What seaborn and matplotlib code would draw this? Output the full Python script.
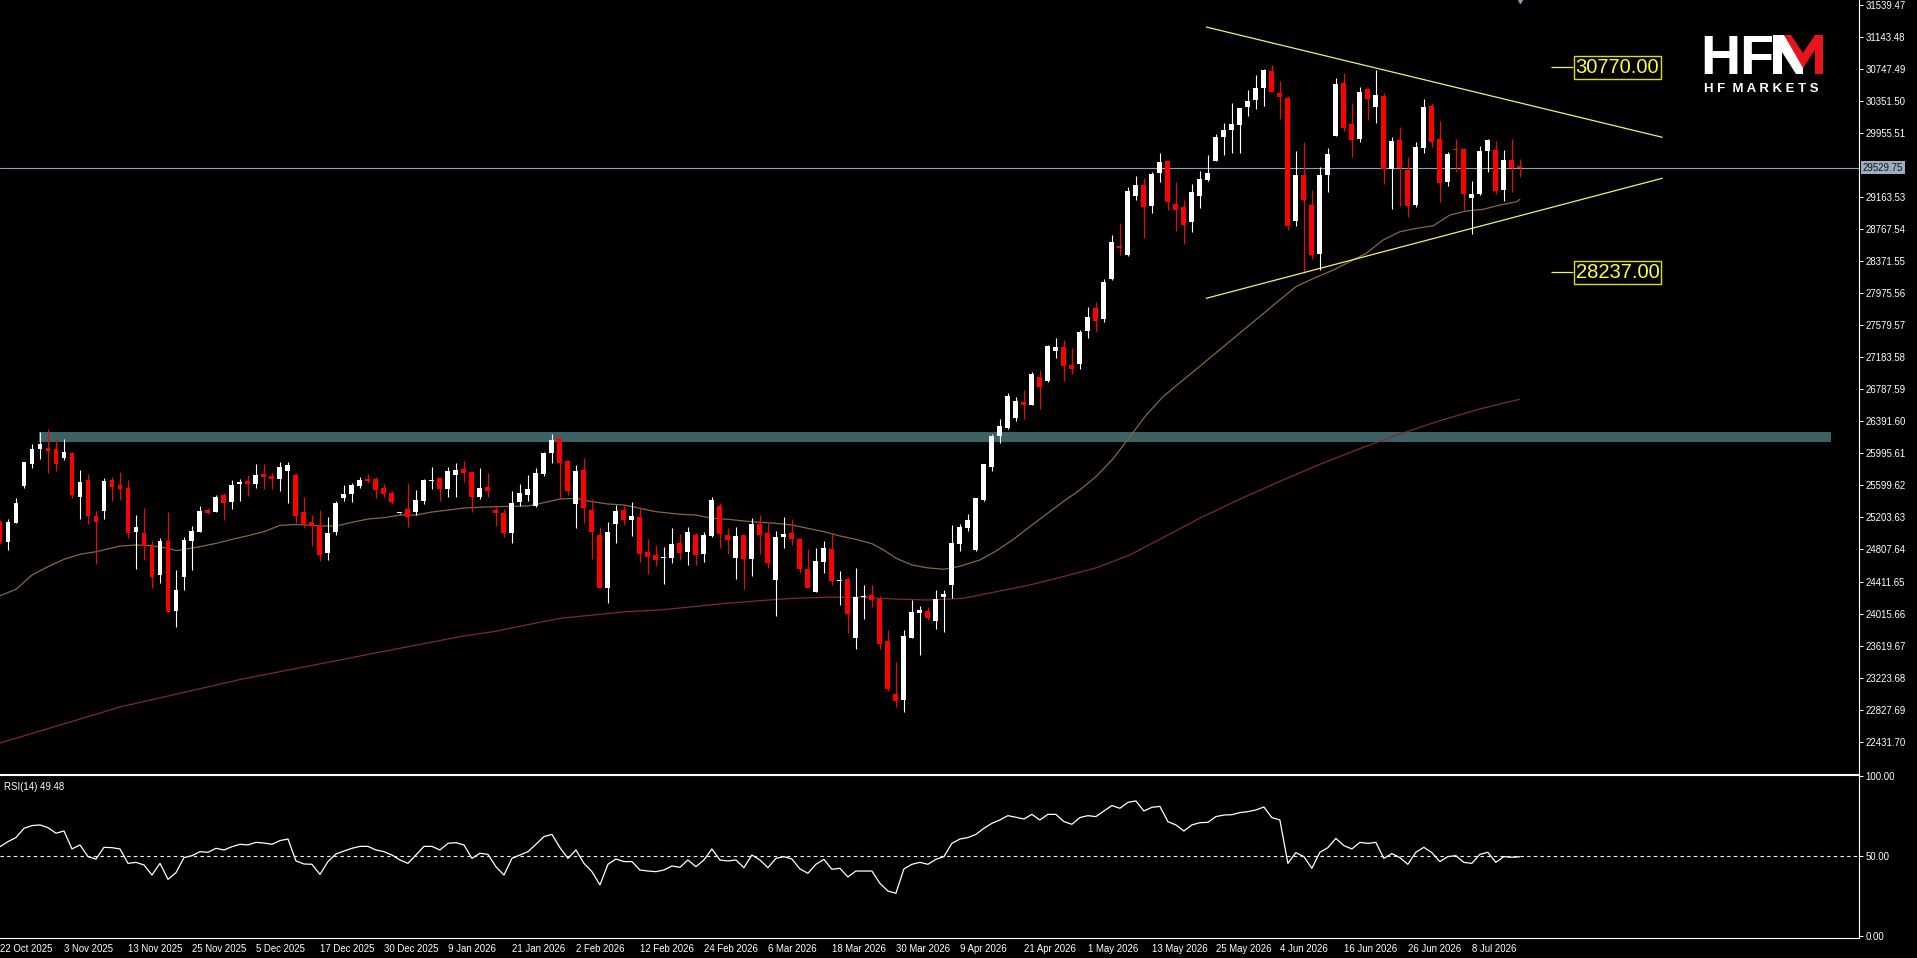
import numpy as np
import pandas as pd
import matplotlib
matplotlib.use("Agg")
import matplotlib.pyplot as plt
import matplotlib.transforms as mtransforms
from matplotlib.patches import Polygon
import seaborn as sns


### daily candles, 22 Oct 2025 .. mid Jul 2026
opens = [25151, 24904, 25139, 25592, 25864, 26049, 26062, 26049, 25942, 26000,
         25460, 25666, 25221, 25287, 25666, 25604, 25567, 25027, 25007, 24850,
         24492, 24912, 24047, 24471, 24916, 25023, 25295, 25275, 25481, 25398,
         25613, 25654, 25617, 25740, 25720, 25683, 25782, 25728, 25271, 25143,
         25106, 24768, 25027, 25444, 25493, 25596, 25674, 25683, 25563, 25501,
         25254, 25304, 25266, 25407, 25655, 25687, 25555, 25728, 25798, 25769,
         25461, 25576, 25296, 25263, 25016, 25399, 25482, 25346, 25741, 26005,
         26182, 25902, 25370, 25791, 25296, 24987, 24336, 25123, 25296, 25172,
         25214, 24781, 24740, 24705, 24707, 24892, 24781, 24987, 24752, 24979,
         25350, 24987, 24707, 24987, 24690, 25123, 25016, 24431, 24958, 25016,
         24938, 24567, 24286, 24657, 24814, 24420, 24443, 23718, 24223, 24245,
         24196, 23677, 23021, 22947, 23718, 24019, 24047, 23928, 24216, 24369,
         24876, 25069, 24802, 25420, 25832, 26211, 26306, 26430, 26636, 26594,
         26936, 26891, 27266, 27307, 27089, 27101, 27509, 27798, 27654, 28152,
         28560, 28449, 29178, 29314, 29058, 29458, 29610, 29078, 29045, 28860,
         29182, 29375, 29614, 29911, 29993, 30055, 30282, 30364, 30517, 30723,
         30447, 30393, 28868, 29437, 29066, 28460, 29437, 29923, 30570, 30067,
         29882, 30500, 30282, 30414, 29507, 29870, 29499, 29066, 29775, 30294,
         29882, 29355, 29746, 29758, 29148, 29202, 29738, 29746, 29252, 29623,
         29532]
highs = [25172, 25180, 25440, 25889, 26111, 26256, 26297, 26173, 26173, 26012,
         25790, 25740, 25283, 25687, 25707, 25765, 25666, 25233, 25320, 24916,
         24945, 25271, 24554, 24966, 25098, 25345, 25316, 25481, 25501, 25666,
         25674, 25728, 25864, 25864, 25757, 25889, 25889, 25749, 25452, 25238,
         25295, 25209, 25407, 25600, 25625, 25699, 25740, 25707, 25613, 25530,
         25260, 25633, 25543, 25674, 25827, 25699, 25823, 25881, 25901, 25782,
         25811, 25749, 25329, 25304, 25531, 25618, 25729, 25811, 26017, 26236,
         26190, 25914, 25852, 25935, 25428, 25090, 25144, 25358, 25358, 25391,
         25337, 24933, 24863, 24843, 25069, 24999, 25082, 25016, 25028, 25461,
         25387, 25069, 25082, 24987, 25193, 25234, 25131, 25041, 25205, 25181,
         24954, 24814, 24822, 24913, 25016, 24546, 24472, 24575, 24369, 24369,
         24237, 23813, 23421, 23813, 24183, 24109, 24101, 24307, 24307, 25111,
         25123, 25247, 25449, 25861, 26236, 26421, 26739, 26689, 26780, 27006,
         27027, 27336, 27419, 27398, 27295, 27522, 27810, 27872, 28152, 28696,
         28849, 29294, 29420, 29400, 29478, 29705, 29610, 29355, 29128, 29326,
         29486, 29684, 29944, 30076, 30323, 30261, 30488, 30673, 30747, 30797,
         30599, 30414, 29734, 29841, 29252, 29540, 29767, 30632, 30694, 30323,
         30521, 30508, 30735, 30447, 29903, 30026, 29655, 29849, 30373, 30331,
         30105, 29726, 29882, 29775, 29363, 29796, 29882, 29857, 29746, 29882,
         29631]
lows = [24880, 24801, 25130, 25571, 25819, 25926, 25749, 25782, 25913, 25440,
        25184, 25118, 24628, 25184, 25411, 25419, 24945, 24566, 24677, 24327,
        24397, 24030, 23853, 24306, 24554, 25023, 25246, 25271, 25172, 25308,
        25407, 25468, 25567, 25555, 25555, 25530, 25386, 25139, 25069, 24854,
        24669, 24677, 24990, 25407, 25394, 25563, 25625, 25444, 25460, 25365,
        25252, 25089, 25233, 25365, 25555, 25407, 25460, 25460, 25641, 25275,
        25428, 25453, 25102, 24966, 24892, 25350, 25411, 25329, 25716, 25881,
        25432, 25480, 25078, 25131, 24690, 24328, 24150, 24884, 25111, 24979,
        24657, 24505, 24604, 24381, 24645, 24678, 24616, 24616, 24657, 24958,
        24830, 24752, 24443, 24319, 24480, 24752, 24575, 23986, 24822, 24863,
        24513, 24336, 24286, 24521, 24369, 24122, 23771, 23578, 23949, 24101,
        23578, 23063, 22865, 22803, 23718, 23503, 23936, 23825, 23792, 24212,
        24794, 25041, 24794, 25412, 25783, 26129, 26294, 26401, 26421, 26594,
        26545, 26883, 27171, 26895, 26978, 27040, 27427, 27493, 27625, 28140,
        28449, 28436, 29129, 28663, 28971, 29355, 29004, 28749, 28584, 28728,
        29033, 29363, 29614, 29684, 29713, 29713, 30166, 30253, 30294, 30459,
        30129, 28757, 28811, 28221, 28398, 28263, 29231, 29923, 29985, 29655,
        29841, 30117, 30084, 29326, 29017, 29058, 28922, 29045, 29705, 29787,
        29107, 29305, 29470, 29004, 28708, 29190, 29470, 29202, 29120, 29231,
        29417]
closes = [24904, 25151, 25378, 25889, 26049, 26111, 26029, 25868, 26012, 25485,
          25641, 25225, 25143, 25654, 25584, 25555, 25015, 25085, 24854, 24471,
          24916, 24030, 24306, 24924, 25036, 25283, 25262, 25460, 25386, 25604,
          25646, 25621, 25728, 25703, 25683, 25831, 25848, 25225, 25118, 25102,
          24739, 25011, 25386, 25493, 25604, 25666, 25654, 25543, 25493, 25394,
          25258, 25213, 25419, 25666, 25660, 25555, 25782, 25790, 25749, 25460,
          25568, 25531, 25263, 25016, 25379, 25502, 25552, 25749, 26005, 26161,
          25881, 25535, 25782, 25317, 25028, 24328, 25028, 25284, 25172, 25222,
          24752, 24719, 24678, 24710, 24876, 24769, 25028, 24740, 24987, 25420,
          24999, 24925, 24975, 24690, 25123, 24987, 24645, 24958, 24999, 24938,
          24567, 24336, 24666, 24822, 24422, 24424, 24010, 24216, 24227, 24183,
          23639, 23079, 22939, 23743, 24039, 24060, 23965, 24196, 24258, 24892,
          25090, 25173, 25449, 25861, 26211, 26335, 26706, 26648, 26594, 26978,
          26821, 27328, 27311, 27081, 27040, 27501, 27687, 27633, 28119, 28614,
          28535, 29244, 29314, 29046, 29445, 29602, 29107, 29004, 28819, 29223,
          29384, 29458, 29903, 29993, 30067, 30261, 30352, 30508, 30735, 30467,
          30405, 28811, 29437, 29128, 28448, 29437, 29697, 30562, 30014, 29870,
          30467, 30377, 30426, 29507, 29862, 29519, 29058, 29787, 30282, 29841,
          29334, 29693, 29742, 29202, 29202, 29734, 29870, 29243, 29623, 29528,
          29530]

### moving averages (bar index, value) read at sample points
ma_fast_x = [0, 2, 4, 6, 8, 10, 12, 15, 17, 19, 21, 22, 25, 27, 29, 31, 33, 35, 37, 40,
             42, 44, 46, 48, 50, 52, 54, 56, 58, 60, 62, 66, 68, 70, 72, 74, 76, 78, 80, 82,
             85, 87, 89, 91, 93, 95, 97, 99, 101, 103, 105, 107, 109, 110.5, 112, 114, 116,
             118, 120, 122.5, 124.6, 126.7, 128.75, 130.8, 132.9, 135, 137.1, 139.2, 141.25,
             143.3, 145.4, 148, 150, 152, 154, 156, 158, 160, 162, 164.5, 166.7, 168.75,
             170.8, 172.9, 175, 177.1, 179.2, 181.25, 183.3, 185.4, 187.5, 189.6, 190]
ma_fast = [24236, 24315, 24492, 24595, 24686, 24748, 24780, 24850, 24863, 24855, 24822,
           24793, 24842, 24883, 24933, 24978, 25028, 25106, 25118, 25098, 25098, 25143,
           25184, 25201, 25233, 25233, 25271, 25295, 25320, 25330, 25337, 25346, 25387,
           25432, 25440, 25399, 25370, 25358, 25317, 25275, 25243, 25234, 25193, 25181,
           25160, 25144, 25131, 25111, 25069, 25028, 24975, 24933, 24880, 24800, 24700,
           24616, 24580, 24563, 24600, 24678, 24793, 24934, 25090, 25243, 25399, 25544,
           25717, 25935, 26203, 26471, 26697, 26910, 27074, 27238, 27402, 27566, 27730,
           27894, 28057, 28172, 28263, 28366, 28469, 28633, 28736, 28778, 28811, 28943,
           28992, 29013, 29066, 29107, 29136]
ma_slow_x = [0, 15, 30, 46, 57.5, 61.7, 65.8, 70, 74.2, 78.3, 82.5, 86.7, 90.8, 95, 99.2,
             103.3, 107.5, 111.7, 115.8, 120.4, 124.6, 128.75, 132.9, 137.1, 141.25, 146.25,
             150, 155, 160, 165, 170, 175, 180, 185, 190]
ma_slow = [22415, 22860, 23200, 23510, 23730, 23792, 23874, 23957, 23998, 24039, 24060,
           24101, 24142, 24175, 24204, 24217, 24217, 24196, 24183, 24204, 24287, 24369,
           24472, 24583, 24740, 24999, 25195, 25430, 25650, 25860, 26055, 26235, 26400,
           26545, 26665]

### RSI(14), one value per bar
rsi_values = [55.8, 59.0, 61.5, 67.3, 69.0, 69.4, 67.7, 64.2, 65.6, 54.4,
              56.9, 49.6, 48.1, 55.4, 55.2, 54.4, 45.4, 46.0, 44.4, 38.1,
              45.4, 35.4, 39.6, 49.0, 50.2, 52.7, 52.3, 54.8, 53.75, 55.8,
              57.3, 56.9, 58.5, 58.1, 57.3, 59.6, 60.6, 46.9, 45.0, 44.8,
              38.5, 46.5, 51.25, 53.1, 54.8, 56.0, 56.0, 53.75, 52.7, 50.6,
              47.5, 45.4, 50.6, 56.0, 56.0, 53.75, 57.9, 58.3, 56.9, 48.5,
              51.7, 51.0, 43.3, 38.1, 48.5, 50.6, 52.7, 57.3, 62.1, 63.5,
              55.2, 48.5, 53.75, 45.4, 40.2, 31.9, 44.8, 48.1, 46.5, 46.5,
              41.25, 40.6, 40.2, 41.25, 43.75, 42.9, 47.5, 43.3, 47.5, 54.4,
              47.5, 46.9, 47.5, 42.7, 50.6,
              47.5, 42.7, 48.5, 49.6, 48.1, 41.9, 39.2, 44.8, 47.9, 41.7,
              42.3, 36.9, 40.6, 40.6, 40.6, 32.9, 28.1, 26.7, 41.9, 44.8,
              46.0, 44.8, 47.9, 49.6, 57.9, 60.6, 61.5, 63.5, 67.3, 70.4,
              72.5, 75.2, 74.2, 73.1, 76.0, 72.5, 76.0, 76.0, 71.5, 69.8,
              74.0, 75.2, 74.6, 78.1, 81.5, 79.8, 83.5, 84.4, 78.1, 80.4,
              81.0, 71.5, 69.4, 65.6, 69.4, 70.8, 71.0, 74.6, 75.6, 75.8,
              77.1, 77.7, 78.75, 80.6, 74.0, 72.5, 45.4, 52.1, 49.6, 42.3,
              52.3, 55.2, 61.0, 56.5, 54.4, 58.5, 57.9, 58.5, 48.5, 51.5,
              49.0, 44.8, 52.3, 55.4, 52.1, 46.5, 49.6, 50.2, 46.0, 45.4,
              51.0, 52.3, 46.0, 49.6, 49.2, 49.5]
rsi_last = 49.48

date_labels = ['22 Oct 2025', '3 Nov 2025', '13 Nov 2025', '25 Nov 2025', '5 Dec 2025',
               '17 Dec 2025', '30 Dec 2025', '9 Jan 2026', '21 Jan 2026', '2 Feb 2026',
               '12 Feb 2026', '24 Feb 2026', '6 Mar 2026', '18 Mar 2026', '30 Mar 2026',
               '9 Apr 2026', '21 Apr 2026', '1 May 2026', '13 May 2026', '25 May 2026',
               '4 Jun 2026', '16 Jun 2026', '26 Jun 2026', '8 Jul 2026']
price_ticks = [22431.70, 22827.69, 23223.68, 23619.67, 24015.66, 24411.65, 24807.64,
               25203.63, 25599.62, 25995.61, 26391.60, 26787.59, 27183.58, 27579.57,
               27975.56, 28371.55, 28767.54, 29163.53, 29955.51, 30351.50, 30747.49,
               31143.48, 31539.47]

### drawn objects: triangle, support zone, levels
tri_x = [150.8, 207.8]
tri_top = [31267, 29904]
tri_bottom = [27913, 29397]
zone_x = [4.9, 228.9]
zone_low, zone_high = 26140, 26257
levels = [30770.00, 28237.00]
last_price = 29529.75

BG = "black"
UP = "#ffffff"
DOWN = "#ff0000"
YELLOW = "#f0f070"
TICK_FS = 6.9

sns.set_theme(style="dark", rc={"axes.facecolor": BG, "figure.facecolor": BG,
                                "axes.grid": False})
plt.rcParams['font.family'] = ['Liberation Sans', 'DejaVu Sans']

df = pd.DataFrame({'open': opens, 'high': highs, 'low': lows, 'close': closes})
df['idx'] = np.arange(len(df))
df['up'] = df['close'] >= df['open']

W, H = 1917, 958
fig = plt.figure(figsize=(W / 100, H / 100), dpi=100, facecolor=BG)
ax = fig.add_axes([0, (H - 774) / H, 1859 / W, 774 / H])
ax_rsi = fig.add_axes([0, (H - 938) / H, 1859 / W, 163 / H])

# support zone
ax.fill_between(zone_x, zone_low, zone_high, color="#3b6365", lw=0, zorder=1)

# moving averages
sns.lineplot(x=ma_slow_x, y=ma_slow, ax=ax, color="#7e2b2b", linewidth=0.9, zorder=2)
sns.lineplot(x=ma_fast_x, y=ma_fast, ax=ax, color="#86664a", linewidth=0.9, zorder=2)

# candles
colors = np.where(df['up'], UP, DOWN)
ax.vlines(df['idx'], df['low'], df['high'], colors=colors, lw=0.8, zorder=3)
body_bottom = np.minimum(df['open'], df['close'])
body_h = np.maximum((df['close'] - df['open']).abs(), 14)
ax.bar(df['idx'], body_h, bottom=body_bottom, width=0.62, color=colors, lw=0, zorder=4)

# current price
ax.axhline(last_price, color="#8e9fb5", lw=0.8, zorder=2.5)
trans = mtransforms.blended_transform_factory(ax.transAxes, ax.transData)
ax.text(1.0 + 4 / 1859, last_price, f"{last_price:.2f}", transform=trans,
        ha='left', va='center', fontsize=TICK_FS, color="#10141c",
        bbox=dict(facecolor="#9dadc2", edgecolor='none', pad=1.2), clip_on=False, zorder=6)

# triangle lines
ax.plot(tri_x, tri_top, color=YELLOW, lw=0.9, zorder=5)
ax.plot(tri_x, tri_bottom, color=YELLOW, lw=0.9, zorder=5)

# level labels
for lv in levels:
    ax.hlines(lv, 193.9, 196.7, color=YELLOW, lw=0.9, zorder=5)
    ax.text(202.2, lv, f"{lv:.2f}", ha='center', va='center', fontsize=14.5,
            color="#ffff33", zorder=6,
            bbox=dict(boxstyle='square,pad=0.1', facecolor=BG, edgecolor="#e0e000", lw=1))

# bar marker at top
ax.plot([len(df) - 1], [31601], marker='v', color="#8e9fb5", ms=5, clip_on=False, zorder=6)

ax.set_xlim(0, 232.4)
ax.set_ylim(22032, 31601)
ax.set_xticks([])
ax.yaxis.tick_right()
ax.set_yticks(price_ticks)
ax.set_yticklabels([f"{p:.2f}" for p in price_ticks])
ax.tick_params(axis='y', direction='out', length=3, width=0.75, colors='white',
               labelsize=TICK_FS, pad=1.5)
ax.set_xlabel('')
ax.set_ylabel('')
for side in ['left', 'top']:
    ax.spines[side].set_visible(False)
for side in ['right', 'bottom']:
    ax.spines[side].set_color('white')
    ax.spines[side].set_linewidth(0.8)

# RSI panel
ax_rsi.axhline(50, color='white', lw=0.8, ls=(0, (3, 3)))
sns.lineplot(x=np.arange(len(rsi_values)), y=rsi_values, ax=ax_rsi, color='white', linewidth=0.9)
ax_rsi.text(0.002, 0.96, f"RSI(14) {rsi_last:.2f}", transform=ax_rsi.transAxes,
            ha='left', va='top', fontsize=TICK_FS, color='white')
ax_rsi.set_xlim(0, 232.4)
ax_rsi.set_ylim(-1.25, 100.6)
ax_rsi.yaxis.tick_right()
ax_rsi.set_yticks([0, 50, 100])
ax_rsi.set_yticklabels(['0.00', '50.00', '100.00'])
ax_rsi.set_xticks(np.arange(len(date_labels)) * 8)
ax_rsi.set_xticklabels(date_labels)
for t in ax_rsi.get_xticklabels():
    t.set_ha('left')
ax_rsi.tick_params(axis='both', direction='out', length=3, width=0.75, colors='white',
                   labelsize=TICK_FS, pad=1.5)
ax_rsi.set_xlabel('')
ax_rsi.set_ylabel('')
ax_rsi.spines['left'].set_visible(False)
for side in ['right', 'bottom', 'top']:
    ax_rsi.spines[side].set_color('white')
    ax_rsi.spines[side].set_linewidth(0.8)

# logo
fig.text(1700 / W, 1 - 74 / H, "HF", fontsize=40, weight='bold', color='white',
         ha='left', va='baseline')
white_m = [(1773, 74), (1773, 35), (1784, 35), (1803, 62), (1803, 74), (1796, 74),
           (1782, 52), (1782, 74)]
red_m = [(1784, 35), (1791, 35), (1803, 53), (1815, 35), (1823, 35), (1823, 74),
         (1815, 74), (1815, 50), (1803, 68)]
for pts, col in [(white_m, 'white'), (red_m, '#e8141c')]:
    fig.patches.append(Polygon([(x / W, 1 - y / H) for x, y in pts], closed=True,
                               transform=fig.transFigure, facecolor=col, edgecolor='none'))
fig.text(1761 / W, 1 - 89 / H, "H F  M A R K E T S", fontsize=9.5, weight='bold',
         color='white', ha='center', va='center')

fig.savefig("out.png", dpi=100, facecolor=BG)
